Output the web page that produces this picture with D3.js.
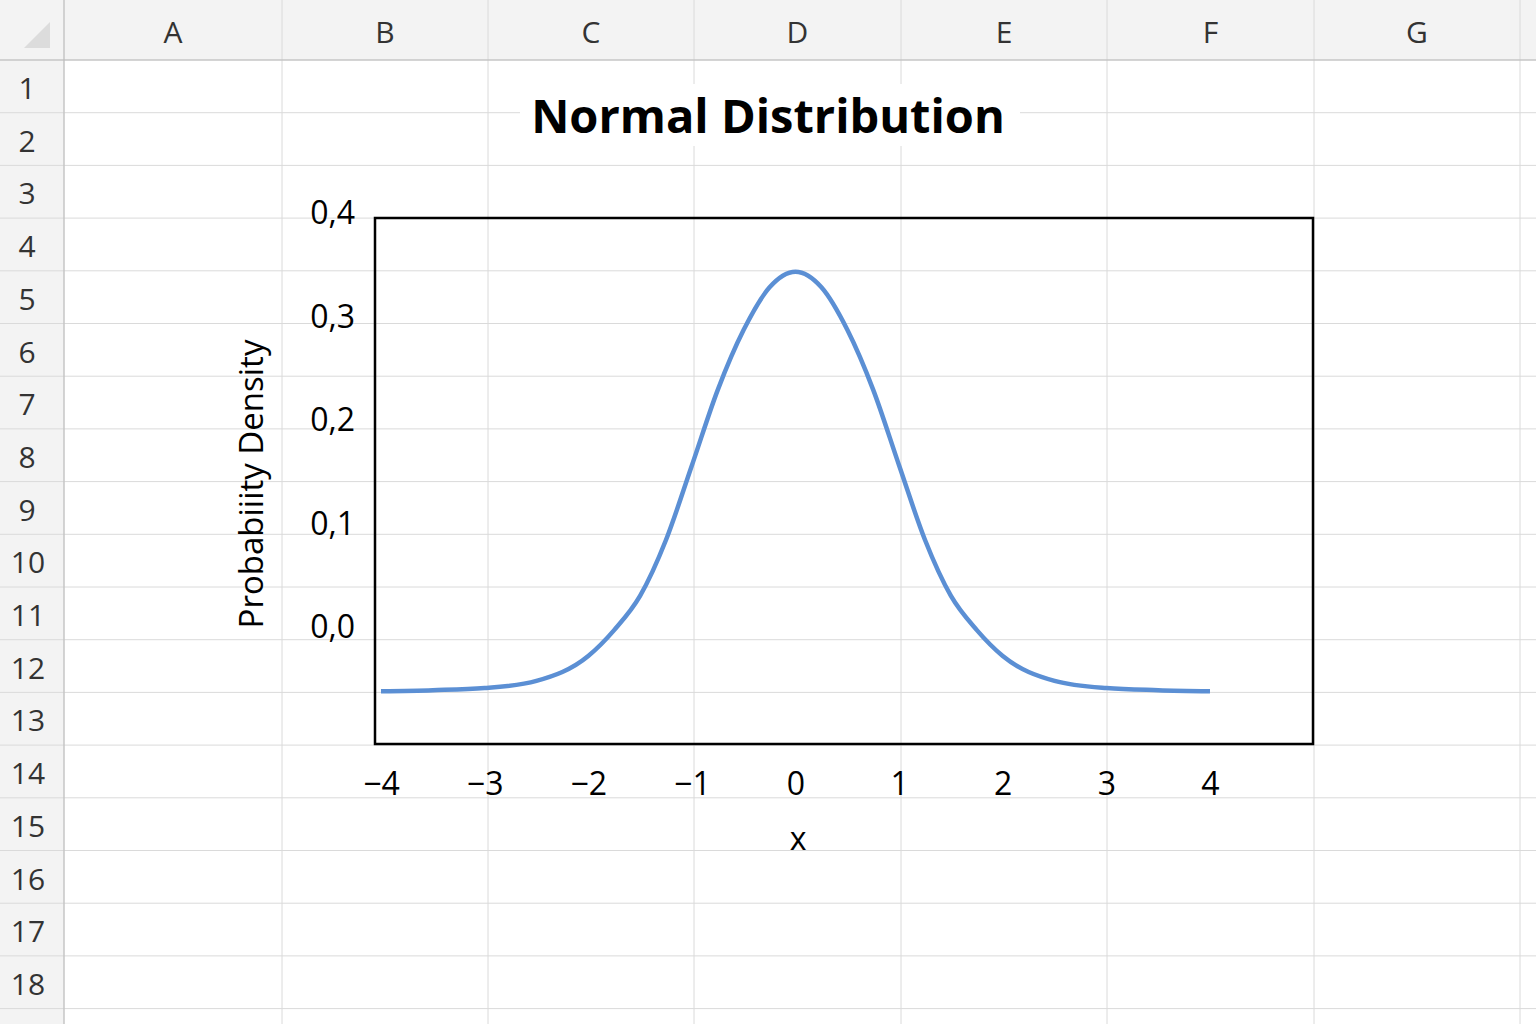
<!DOCTYPE html>
<html><head><meta charset="utf-8">
<script src="https://cdn.jsdelivr.net/npm/d3@7"></script>
<style>body{margin:0;background:#fff}svg{display:block}text{font-family:"Open Sans","Noto Sans",sans-serif}</style>
</head><body><svg id="c" width="1536" height="1024"></svg>
<script>
const colLetters=["A","B","C","D","E","F","G"];
const colEdges=[64,282,488,694,901,1107,1314,1520];
const rowLabels=d3.range(1,19);
const xs=[-4,-3.5,-3,-2.5,-2,-1.75,-1.5,-1.25,-1,-0.75,-0.5,-0.25,0,0.25,0.5,0.75,1,1.25,1.5,1.75,2,2.5,3,3.5,4];
const ys=[-0.049,-0.048,-0.046,-0.039,-0.015,0.01,0.043,0.097,0.169,0.242,0.300,0.341,0.356,0.341,0.300,0.242,0.169,0.097,0.043,0.01,-0.015,-0.039,-0.046,-0.048,-0.049];
const xTicks=[-4,-3,-2,-1,0,1,2,3,4];
const yTicks=[0,0.1,0.2,0.3,0.4];

const svg=d3.select("#c");
const rowTop=60,rowH=52.7;
const g=svg.append("g");
g.append("rect").attr("x",0).attr("y",0).attr("width",1536).attr("height",60).attr("fill","#f3f3f3");
g.append("rect").attr("x",0).attr("y",0).attr("width",64).attr("height",1024).attr("fill","#f3f3f3");
colEdges.forEach(x=>g.append("line").attr("x1",x).attr("x2",x).attr("y1",0).attr("y2",1024).attr("stroke","#dadada"));
rowLabels.concat([19]).forEach((r,i)=>{const y=rowTop+i*rowH;g.append("line").attr("x1",0).attr("x2",1536).attr("y1",y).attr("y2",y).attr("stroke","#dadada");});
g.append("line").attr("x1",0).attr("x2",1536).attr("y1",60).attr("y2",60).attr("stroke","#bbb");
g.append("line").attr("x1",64).attr("x2",64).attr("y1",0).attr("y2",1024).attr("stroke","#bbb");
g.append("path").attr("d","M24,48 L50,48 L50,22 Z").attr("fill","#dcdcdc");
colLetters.forEach((c,i)=>g.append("text").attr("x",(colEdges[i]+colEdges[i+1])/2).attr("y",43).attr("text-anchor","middle").attr("font-size",30).attr("fill","#333").text(c));
rowLabels.forEach((r,i)=>g.append("text").attr("x",r<10?27:28).attr("y",rowTop+i*rowH+39).attr("text-anchor","middle").attr("font-size",30).attr("fill","#333").text(r));

const x=d3.scaleLinear().domain([-4,4]).range([381,1210]);
const y=d3.scaleLinear().domain([-0.1,0.408]).range([744,218]);
svg.append("rect").attr("x",520).attr("y",84).attr("width",500).attr("height",62).attr("fill","#fff");
svg.append("text").attr("x",768).attr("y",133).attr("text-anchor","middle").attr("font-size",47).attr("font-weight","bold").text("Normal Distribution");
svg.append("rect").attr("x",375).attr("y",218).attr("width",938).attr("height",526).attr("fill","none").attr("stroke","#000").attr("stroke-width",2.5);
svg.append("path").datum(xs.map((v,i)=>[v,ys[i]])).attr("fill","none").attr("stroke","#5b8fd4").attr("stroke-width",4.5)
  .attr("d",d3.line().x(d=>x(d[0])).y(d=>y(d[1])).curve(d3.curveMonotoneX));
const fmt=v=>v.toFixed(1).replace(".",",");
const ya=svg.append("g").attr("transform","translate(375,0)").call(d3.axisLeft(y).tickValues(yTicks).tickFormat(fmt).tickSize(0).tickPadding(20));
ya.select(".domain").remove();
ya.selectAll("text").attr("font-size",32).attr("fill","#000").attr("font-family","Open Sans").attr("dy","0.35em").attr("transform","translate(0,-14)");
const xa=svg.append("g").attr("transform","translate(0,744)").call(d3.axisBottom(x).tickValues(xTicks).tickFormat(v=>v<0?"\u2212"+(-v):v).tickSize(0).tickPadding(28));
xa.select(".domain").remove();
xa.selectAll("text").attr("font-size",32).attr("fill","#000").attr("font-family","Open Sans");
svg.append("text").attr("x",798).attr("y",850).attr("text-anchor","middle").attr("font-size",32).text("x");
svg.append("text").attr("transform","translate(263,484) rotate(-90)").attr("text-anchor","middle").attr("font-size",33).text("Probabiiity Density");
</script></body></html>
